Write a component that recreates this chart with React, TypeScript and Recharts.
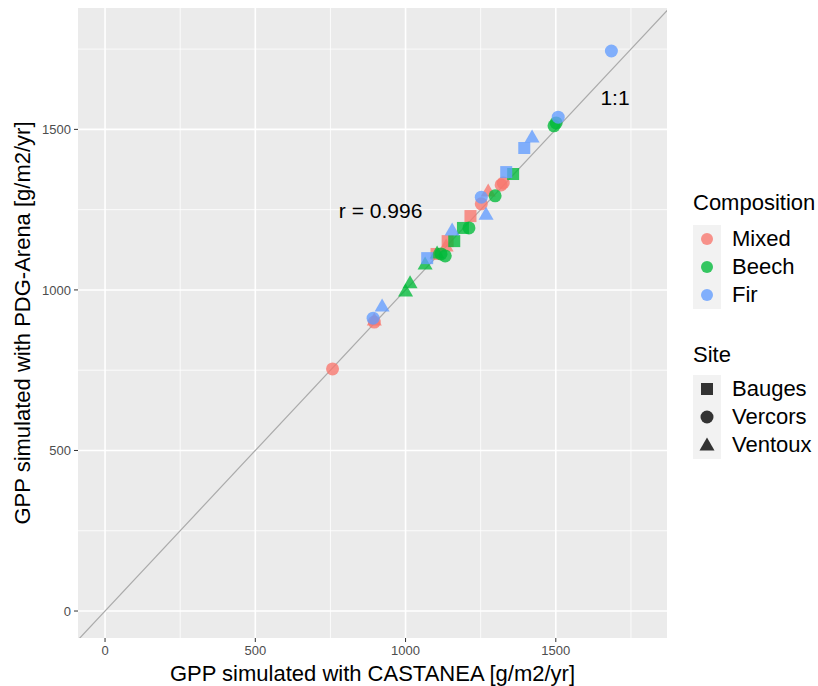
import React from 'react';
import {
  ScatterChart,
  Scatter,
  XAxis,
  YAxis,
  CartesianGrid,
  ReferenceLine,
  ReferenceDot,
} from 'recharts';

// GPP values [g/m2/yr]
const mixedCastanea = [757, 896, 896, 1103, 1135, 1140, 1216, 1252, 1275, 1318, 1325];
const mixedPdg = [754, 900, 906, 1112, 1137, 1152, 1230, 1268, 1308, 1327, 1333];
const mixedSite = ['Vercors', 'Vercors', 'Ventoux', 'Bauges', 'Ventoux', 'Bauges', 'Bauges', 'Vercors', 'Ventoux', 'Vercors', 'Vercors'];

const beechCastanea = [1000, 1015, 1065, 1105, 1118, 1132, 1162, 1191, 1211, 1298, 1358, 1494, 1501];
const beechPdg = [997, 1022, 1081, 1115, 1112, 1106, 1152, 1193, 1193, 1293, 1361, 1511, 1520];
const beechSite = ['Ventoux', 'Ventoux', 'Ventoux', 'Ventoux', 'Vercors', 'Vercors', 'Bauges', 'Bauges', 'Vercors', 'Vercors', 'Bauges', 'Vercors', 'Vercors'];

const firCastanea = [892, 922, 1072, 1155, 1252, 1268, 1335, 1395, 1421, 1508, 1685];
const firPdg = [912, 950, 1099, 1187, 1289, 1236, 1367, 1442, 1476, 1538, 1744];
const firSite = ['Vercors', 'Ventoux', 'Bauges', 'Ventoux', 'Vercors', 'Ventoux', 'Bauges', 'Bauges', 'Ventoux', 'Vercors', 'Vercors'];

const majorTicks = [0, 500, 1000, 1500];
const minorTicks = [250, 750, 1250, 1750];

const compositions = ['Mixed', 'Beech', 'Fir'];
const sites = ['Bauges', 'Vercors', 'Ventoux'];
const colors: Record<string, string> = { Mixed: '#F8766D', Beech: '#00BA38', Fir: '#619CFF' };

const toRows = (xs: number[], ys: number[], ss: string[]) =>
  xs.map((x, i) => ({ castanea: x, pdg: ys[i], site: ss[i] }));

const mixedData = toRows(mixedCastanea, mixedPdg, mixedSite);
const beechData = toRows(beechCastanea, beechPdg, beechSite);
const firData = toRows(firCastanea, firPdg, firSite);

const FONT = '"Liberation Sans", Arial, sans-serif';

function Marker({ cx, cy, site, fill, opacity }: { cx: number; cy: number; site: string; fill: string; opacity: number }) {
  if (site === 'Bauges') {
    return <rect x={cx - 6} y={cy - 6} width={12} height={12} fill={fill} fillOpacity={opacity} />;
  }
  if (site === 'Ventoux') {
    return (
      <polygon
        points={`${cx},${cy - 7.5} ${cx - 7.5},${cy + 5.5} ${cx + 7.5},${cy + 5.5}`}
        fill={fill}
        fillOpacity={opacity}
      />
    );
  }
  return <circle cx={cx} cy={cy} r={6.5} fill={fill} fillOpacity={opacity} />;
}

const shapeFor = (color: string) => (props: any) =>
  <Marker cx={props.cx} cy={props.cy} site={props.payload.site} fill={color} opacity={0.78} />;

function LegendBox() {
  const row = { display: 'flex', alignItems: 'center', height: 28 } as const;
  const label = { marginLeft: 11, fontSize: 22, color: '#000' } as const;
  const title = { fontSize: 22, height: 26, lineHeight: '26px' } as const;
  return (
    <div style={{ position: 'absolute', left: 693, top: 190, fontFamily: FONT, textAlign: 'left' }}>
      <div style={{ ...title, marginBottom: 9 }}>Composition</div>
      {compositions.map((c) => (
        <div key={c} style={row}>
          <svg width={28} height={28} style={{ display: 'block' }}>
            <rect width={28} height={28} fill="#F2F2F2" />
            <circle cx={14} cy={14} r={6} fill={colors[c]} fillOpacity={0.78} />
          </svg>
          <span style={label}>{c}</span>
        </div>
      ))}
      <div style={{ ...title, marginTop: 33, marginBottom: 7 }}>Site</div>
      {sites.map((s) => (
        <div key={s} style={row}>
          <svg width={28} height={28} style={{ display: 'block' }}>
            <rect width={28} height={28} fill="#F2F2F2" />
            <Marker cx={14} cy={14} site={s} fill="#333333" opacity={1} />
          </svg>
          <span style={label}>{s}</span>
        </div>
      ))}
    </div>
  );
}

export default function App() {
  const tick = { fontSize: 13, fill: '#4D4D4D', fontFamily: FONT };
  return (
    <div style={{ width: 818, height: 686, position: 'relative' }}>
      <style>{'body{margin:0}'}</style>
      <ScatterChart width={818} height={686} margin={{ top: 8, right: 151, left: 0, bottom: 0 }}>
        <CartesianGrid fill="#EBEBEB" stroke="#FFFFFF" strokeWidth={1.6} horizontalValues={majorTicks} verticalValues={majorTicks} />
        {minorTicks.map((v) => (
          <ReferenceLine key={'mx' + v} x={v} stroke="#FFFFFF" strokeWidth={0.8} ifOverflow="hidden" />
        ))}
        {minorTicks.map((v) => (
          <ReferenceLine key={'my' + v} y={v} stroke="#FFFFFF" strokeWidth={0.8} ifOverflow="hidden" />
        ))}
        <XAxis
          type="number"
          dataKey="castanea"
          domain={[-90, 1870]}
          ticks={majorTicks}
          allowDataOverflow
          axisLine={false}
          tickLine={{ stroke: '#333333' }}
          tickSize={4}
          tickMargin={4}
          tick={tick}
          height={48}
          label={{ value: 'GPP simulated with CASTANEA [g/m2/yr]', position: 'insideBottom', offset: 5, fontSize: 22, fill: '#000', fontFamily: FONT }}
        />
        <YAxis
          type="number"
          dataKey="pdg"
          domain={[-84, 1878]}
          ticks={majorTicks}
          allowDataOverflow
          axisLine={false}
          tickLine={{ stroke: '#333333' }}
          tickSize={4}
          tickMargin={3}
          tick={tick}
          width={78}
          label={{ value: 'GPP simulated with PDG-Arena [g/m2/yr]', angle: -90, position: 'insideLeft', offset: 22, fontSize: 22, fill: '#000', fontFamily: FONT, style: { textAnchor: 'middle' } }}
        />
        <ReferenceLine
          segment={[{ x: -200, y: -200 }, { x: 2000, y: 2000 }]}
          stroke="#AAAAAA"
          strokeWidth={1.2}
          ifOverflow="hidden"
        />
        <Scatter name="Mixed" data={mixedData} shape={shapeFor(colors.Mixed)} isAnimationActive={false} />
        <Scatter name="Beech" data={beechData} shape={shapeFor(colors.Beech)} isAnimationActive={false} />
        <Scatter name="Fir" data={firData} shape={shapeFor(colors.Fir)} isAnimationActive={false} />
        <ReferenceDot x={917} y={1246} r={0} fill="none" stroke="none" label={{ value: 'r = 0.996', position: 'center', fontSize: 21, fill: '#000', fontFamily: FONT }} />
        <ReferenceDot x={1697} y={1598} r={0} fill="none" stroke="none" label={{ value: '1:1', position: 'center', fontSize: 21, fill: '#000', fontFamily: FONT }} />
      </ScatterChart>
      <LegendBox />
    </div>
  );
}
